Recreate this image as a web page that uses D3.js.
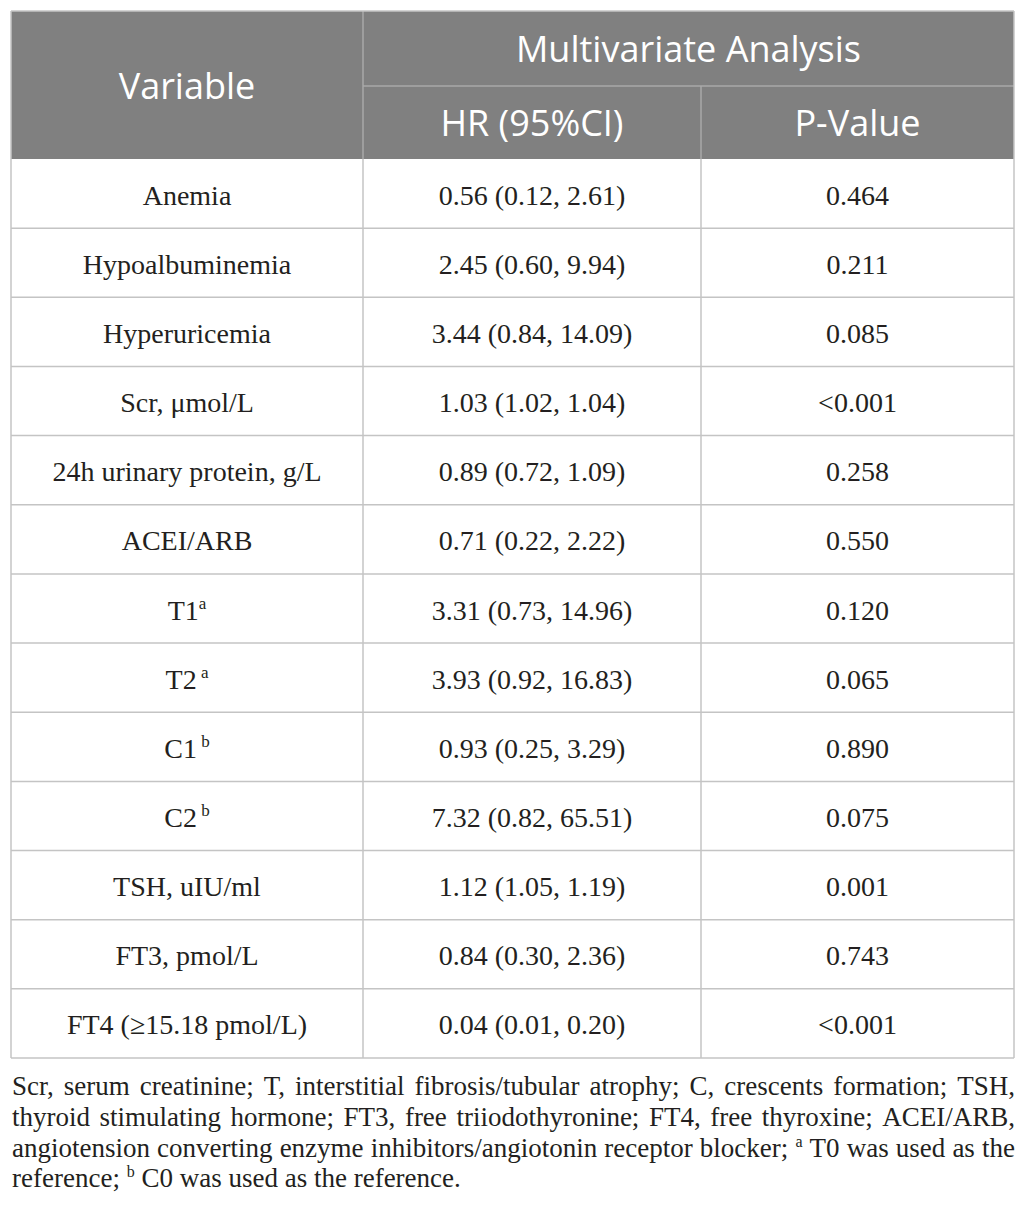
<!DOCTYPE html>
<html>
<head>
<meta charset="utf-8">
<script src="https://cdn.jsdelivr.net/npm/d3@7"></script>
<style>
  body { margin: 0; background: #fff; }
  svg { display: block; }
  text { white-space: pre; }
</style>
</head>
<body>
<svg id="chart"></svg>
<script>
var width = 1026;
var height = 1215;

// table content
var variables = ["Anemia", "Hypoalbuminemia", "Hyperuricemia", "Scr, \u03bcmol/L",
  "24h urinary protein, g/L", "ACEI/ARB", "T1", "T2", "C1", "C2",
  "TSH, uIU/ml", "FT3, pmol/L", "FT4 (\u226515.18 pmol/L)"];
var supMarks = ["", "", "", "", "", "", "a", " a", " b", " b", "", "", ""];
var hr = [0.56, 2.45, 3.44, 1.03, 0.89, 0.71, 3.31, 3.93, 0.93, 7.32, 1.12, 0.84, 0.04];
var ciLow = [0.12, 0.60, 0.84, 1.02, 0.72, 0.22, 0.73, 0.92, 0.25, 0.82, 1.05, 0.30, 0.01];
var ciHigh = [2.61, 9.94, 14.09, 1.04, 1.09, 2.22, 14.96, 16.83, 3.29, 65.51, 1.19, 2.36, 0.20];
var pValues = ["0.464", "0.211", "0.085", "<0.001", "0.258", "0.550", "0.120",
  "0.065", "0.890", "0.075", "0.001", "0.743", "<0.001"];

var headTop = "Multivariate Analysis";
var headCols = ["Variable", "HR (95%CI)", "P-Value"];

// footnote, split in lines as printed; [text, superscript] pieces
var noteLines = [
  [["Scr, serum creatinine; T, interstitial fibrosis/tubular atrophy; C, crescents formation; TSH,"]],
  [["thyroid stimulating hormone; FT3, free triiodothyronine; FT4, free thyroxine; ACEI/ARB,"]],
  [["angiotension converting enzyme inhibitors/angiotonin receptor blocker;"], ["a", "sup"], ["T0 was used as the"]],
  [["reference;"], ["b", "sup"], ["C0 was used as the reference."]]
];

var fmt = d3.format(".2f");

// note: "top" is a read-only global in browsers, so tableTop
var left = 11, right = 1014, tableTop = 11;
var headMid = 86, headBottom = 159, tableBottom = 1058;
var colEdges = [left, 363, 701, right];
var ink = "#231f20";
var gridColor = "#c4c4c4";
var serif = "'Liberation Serif', 'Times New Roman', serif";
var sans = "'Open Sans', 'Noto Sans', sans-serif";

var svg = d3.select("#chart")
  .attr("width", width)
  .attr("height", height);

var y = d3.scaleBand()
  .domain(d3.range(variables.length))
  .range([headBottom, tableBottom]);

var colMid = function(i) { return (colEdges[i] + colEdges[i + 1]) / 2; };

// header block
svg.append("rect")
  .attr("x", left).attr("y", tableTop)
  .attr("width", right - left).attr("height", headBottom - tableTop)
  .attr("fill", "#808080");

svg.append("line")
  .attr("x1", colEdges[1]).attr("x2", right)
  .attr("y1", headMid).attr("y2", headMid)
  .attr("stroke", "#a8a8a8").attr("stroke-width", 1.5);
svg.append("line")
  .attr("x1", colEdges[1]).attr("x2", colEdges[1])
  .attr("y1", tableTop).attr("y2", headBottom)
  .attr("stroke", "#a8a8a8").attr("stroke-width", 1.5);
svg.append("line")
  .attr("x1", colEdges[2]).attr("x2", colEdges[2])
  .attr("y1", headMid).attr("y2", headBottom)
  .attr("stroke", "#a8a8a8").attr("stroke-width", 1.5);

var headText = function(x, yy, s) {
  svg.append("text")
    .attr("x", x).attr("y", yy)
    .attr("text-anchor", "middle")
    .attr("font-family", sans)
    .attr("font-size", 36)
    .attr("fill", "#fff")
    .text(s);
};
headText(colMid(0), (tableTop + headBottom) / 2 + 14, headCols[0]);
headText((colEdges[1] + right) / 2, (tableTop + headMid) / 2 + 13, headTop);
headText(colMid(1), (headMid + headBottom) / 2 + 13, headCols[1]);
headText(colMid(2), (headMid + headBottom) / 2 + 13, headCols[2]);

// body grid
svg.selectAll("line.row")
  .data(d3.range(variables.length))
  .enter().append("line")
  .attr("class", "row")
  .attr("x1", left).attr("x2", right)
  .attr("y1", d => y(d) + y.bandwidth())
  .attr("y2", d => y(d) + y.bandwidth())
  .attr("stroke", gridColor).attr("stroke-width", 1.5);

svg.selectAll("line.col")
  .data(colEdges)
  .enter().append("line")
  .attr("class", "col")
  .attr("x1", d => d).attr("x2", d => d)
  .attr("y1", (d, i) => (i === 0 || i === 3) ? tableTop : headBottom)
  .attr("y2", tableBottom)
  .attr("stroke", gridColor).attr("stroke-width", 1.5);

svg.append("line")
  .attr("x1", left).attr("x2", right)
  .attr("y1", tableTop).attr("y2", tableTop)
  .attr("stroke", gridColor).attr("stroke-width", 1.5);

// body cells
var rows = svg.selectAll("g.row")
  .data(variables)
  .enter().append("g")
  .attr("class", "row")
  .attr("transform", (d, i) => "translate(0," + (y(i) + y.bandwidth() / 2 + 11) + ")");

var cellText = function(sel, x) {
  return sel.append("text")
    .attr("x", x)
    .attr("text-anchor", "middle")
    .attr("font-family", serif)
    .attr("font-size", 28)
    .attr("fill", ink);
};

var varText = cellText(rows, colMid(0));
varText.append("tspan").text(d => d);
varText.append("tspan")
  .attr("font-size", 17)
  .attr("dy", -11)
  .text((d, i) => supMarks[i]);

cellText(rows, colMid(1))
  .text((d, i) => fmt(hr[i]) + " (" + fmt(ciLow[i]) + ", " + fmt(ciHigh[i]) + ")");

cellText(rows, colMid(2))
  .text((d, i) => pValues[i]);

// footnote, justified except the last line
var noteSize = 27;
var noteTop = 1095, noteStep = 30.8;

noteLines.forEach(function(pieces, li) {
  var g = svg.append("g");
  var words = [];
  pieces.forEach(function(p) {
    if (p[1] === "sup") {
      words.push({ s: p[0], sup: true });
    } else {
      p[0].split(" ").forEach(function(w) { words.push({ s: w, sup: false }); });
    }
  });
  var nodes = words.map(function(w) {
    var t = g.append("text")
      .attr("y", noteTop + li * noteStep + (w.sup ? -10 : 0))
      .attr("font-family", serif)
      .attr("font-size", w.sup ? 16 : noteSize)
      .attr("fill", ink)
      .text(w.s);
    return { t: t, w: t.node().getComputedTextLength() };
  });
  var total = d3.sum(nodes, n => n.w);
  var gap = li < noteLines.length - 1
    ? (right - left - total) / (nodes.length - 1)
    : noteSize * 0.25;
  var x = left + 1;
  nodes.forEach(function(n) {
    n.t.attr("x", x);
    x += n.w + gap;
  });
});
</script>
</body>
</html>
